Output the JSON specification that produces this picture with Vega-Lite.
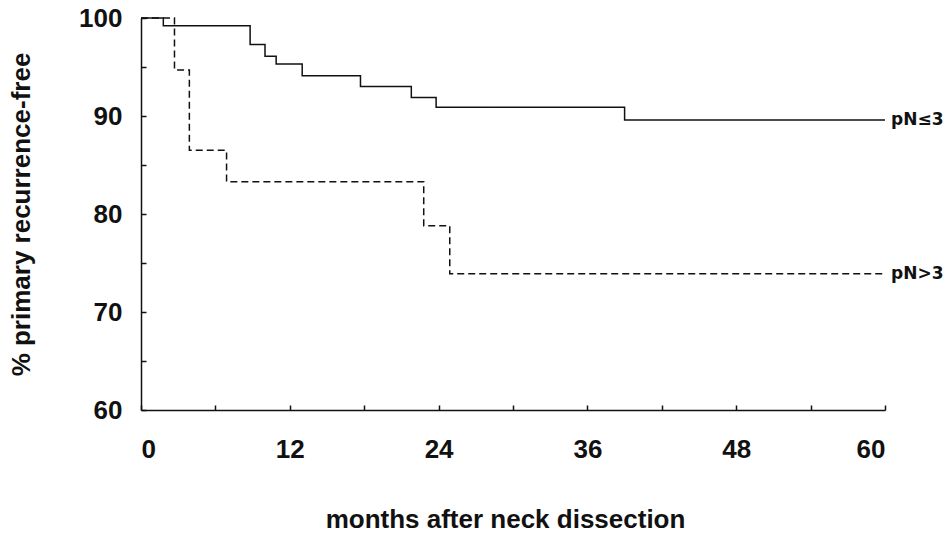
{
  "$schema": "https://vega.github.io/schema/vega-lite/v6.json",
  "width": 744,
  "height": 392,
  "autosize": {"type": "none"},
  "padding": {"left": 141, "top": 18, "right": 63, "bottom": 125},
  "background": "white",
  "config": {
    "view": {"stroke": null},
    "axis": {
      "grid": false,
      "domainColor": "#111",
      "domainWidth": 1.5,
      "tickColor": "#111",
      "tickWidth": 1.5,
      "labelFont": "Liberation Sans",
      "labelFontSize": 26,
      "labelFontWeight": "bold",
      "labelColor": "#111",
      "titleFont": "Liberation Sans",
      "titleFontSize": 26,
      "titleFontWeight": "bold",
      "titleColor": "#111"
    }
  },
  "datasets": {
    "curves": [
      {"month": 0, "pct": 100, "group": "pN≤3"},
      {"month": 1.8, "pct": 99.2, "group": "pN≤3"},
      {"month": 8.8, "pct": 97.3, "group": "pN≤3"},
      {"month": 10.0, "pct": 96.1, "group": "pN≤3"},
      {"month": 10.9, "pct": 95.3, "group": "pN≤3"},
      {"month": 13.0, "pct": 94.1, "group": "pN≤3"},
      {"month": 17.7, "pct": 93.0, "group": "pN≤3"},
      {"month": 21.8, "pct": 91.9, "group": "pN≤3"},
      {"month": 23.8, "pct": 90.9, "group": "pN≤3"},
      {"month": 39.0, "pct": 89.6, "group": "pN≤3"},
      {"month": 60, "pct": 89.6, "group": "pN≤3"},
      {"month": 0, "pct": 100, "group": "pN>3"},
      {"month": 2.7, "pct": 94.7, "group": "pN>3"},
      {"month": 3.9, "pct": 86.5, "group": "pN>3"},
      {"month": 6.9, "pct": 83.3, "group": "pN>3"},
      {"month": 22.8, "pct": 78.8, "group": "pN>3"},
      {"month": 24.9, "pct": 73.9, "group": "pN>3"},
      {"month": 60, "pct": 73.9, "group": "pN>3"}
    ],
    "labels": [
      {"month": 60, "pct": 89.6, "group": "pN≤3"},
      {"month": 60, "pct": 73.9, "group": "pN>3"}
    ]
  },
  "encoding": {
    "x": {
      "field": "month",
      "type": "quantitative",
      "scale": {"domain": [0, 60], "nice": false, "zero": false},
      "axis": {
        "title": "months after neck dissection",
        "values": [0, 6, 12, 18, 24, 30, 36, 42, 48, 54, 60],
        "labelExpr": "datum.value % 12 === 0 ? datum.label : ''",
        "tickSize": -5,
        "labelPadding": 31,
        "titlePadding": 44,
        "titleX": 364
      }
    },
    "y": {
      "field": "pct",
      "type": "quantitative",
      "scale": {"domain": [60, 100], "nice": false, "zero": false},
      "axis": {
        "title": "% primary recurrence-free",
        "values": [60, 65, 70, 75, 80, 85, 90, 95, 100],
        "labelExpr": "datum.value % 10 === 0 ? datum.label : ''",
        "tickSize": -5,
        "labelPadding": 24,
        "titlePadding": 44
      }
    }
  },
  "layer": [
    {
      "data": {"name": "curves"},
      "mark": {"type": "line", "interpolate": "step-after", "strokeWidth": 1.5, "color": "#111"},
      "encoding": {
        "detail": {"field": "group"},
        "strokeDash": {
          "field": "group",
          "type": "nominal",
          "scale": {"domain": ["pN≤3", "pN>3"], "range": [[1, 0], [7, 4]]},
          "legend": null
        }
      }
    },
    {
      "data": {"name": "labels"},
      "mark": {"type": "text", "align": "left", "baseline": "middle", "dx": 6, "font": "DejaVu Sans", "fontSize": 17, "fontWeight": "bold", "color": "#111"},
      "encoding": {"text": {"field": "group"}}
    }
  ]
}
